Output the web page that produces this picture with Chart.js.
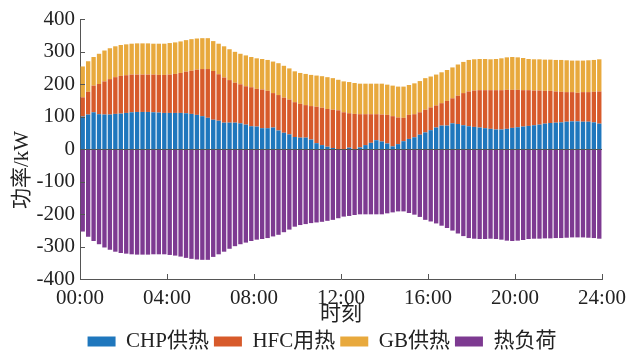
<!DOCTYPE html>
<html>
<head>
<meta charset="utf-8">
<script src="https://cdn.jsdelivr.net/npm/chart.js@4/dist/chart.umd.min.js"></script>
<style>
  html, body { margin: 0; padding: 0; background: #fff; }
</style>
</head>
<body>
<canvas id="chart" width="638" height="353"></canvas>
<script>
// 96 slots of 15 min, values in kW
const chpHeat = [100,106,113,107,106,106,108,109,111,113,114,114,114,113,112,111,
  111,111,111,110,108,105,101,96,90,87,81,81,81,79,75,70,
  69,64,64,66,57,50,45,37,35,35,29,18,12,7,3,0,
  0,4,0,5,12,19,27,23,17,8,15,24,31,36,44,51,
  58,66,72,72,79,77,73,70,68,66,64,62,60,60,62,65,
  67,69,71,73,75,78,80,81,82,84,85,85,84,84,82,78];
const hfcHeat = [59,70,82,93,102,109,113,116,116,116,115,115,115,116,116,117,
  118,120,123,128,133,139,145,150,150,143,139,131,123,120,118,120,
  116,119,115,106,109,108,107,107,104,100,103,112,115,116,118,119,
  113,106,108,102,95,88,80,83,88,93,82,72,74,71,69,70,
  70,68,69,76,77,87,99,107,112,115,117,119,121,121,120,117,
  115,112,110,107,105,101,99,96,94,91,90,88,91,91,94,99];
const gbHeat = [95,94,88,93,95,95,95,95,95,95,96,96,96,95,96,96,
  97,97,97,97,97,96,95,95,92,94,96,95,95,94,95,93,
  94,94,95,97,98,98,96,95,95,96,96,96,97,98,97,94,
  95,96,95,94,94,94,94,95,93,94,95,96,92,95,96,97,
  95,95,95,95,95,96,96,97,96,96,96,95,96,98,100,101,
  100,99,96,96,96,96,96,97,98,98,97,99,97,98,98,99];
const heatLoad = [-254,-270,-283,-293,-303,-310,-316,-320,-322,-324,-325,-325,-325,-324,-324,-324,
  -326,-328,-331,-335,-338,-340,-341,-341,-332,-324,-316,-307,-299,-293,-288,-283,
  -279,-277,-274,-269,-264,-256,-248,-239,-234,-231,-228,-226,-224,-221,-218,-213,
  -208,-206,-203,-201,-201,-201,-201,-201,-198,-195,-192,-192,-197,-202,-209,-218,
  -223,-229,-236,-243,-251,-260,-268,-274,-276,-277,-277,-276,-277,-279,-282,-283,
  -282,-280,-277,-276,-276,-275,-275,-274,-274,-273,-272,-272,-272,-273,-274,-276];

const seriesNames = ['CHP供热', 'HFC用热', 'GB供热', '热负荷'];
const seriesColors = ['#1f77bd', '#d75a2b', '#e8a93d', '#7d3a91'];
const slotsPerHour = 4;
const hourStep = 4;

const FONT = "'Liberation Serif', 'Noto Sans CJK SC', serif";
const FONT_SIZE = 21;
const toPoints = arr => arr.map((v, i) => ({ x: i + 0.5, y: v }));

// ticks point into the plot, plus a thin zero line
const inwardTicks = {
  id: 'inwardTicks',
  afterDatasetsDraw(chart) {
    const { ctx, chartArea: a, scales: { x, y } } = chart;
    ctx.save();
    ctx.strokeStyle = '#555';
    ctx.lineWidth = 1;
    ctx.beginPath();
    y.ticks.forEach(t => {
      const py = Math.round(y.getPixelForValue(t.value)) + 0.5;
      ctx.moveTo(a.left, py);
      ctx.lineTo(a.left + 5, py);
    });
    x.ticks.forEach(t => {
      const px = Math.round(x.getPixelForValue(t.value)) + 0.5;
      ctx.moveTo(px, a.bottom);
      ctx.lineTo(px, a.bottom - 5);
    });
    const y0 = Math.round(y.getPixelForValue(0)) + 0.5;
    ctx.moveTo(a.left, y0);
    ctx.lineTo(a.right, y0);
    ctx.stroke();
    ctx.restore();
  }
};

new Chart(document.getElementById('chart'), {
  type: 'bar',
  data: {
    datasets: [chpHeat, hfcHeat, gbHeat, heatLoad].map((arr, i) => ({
      label: seriesNames[i],
      data: toPoints(arr),
      backgroundColor: seriesColors[i],
      borderWidth: 0,
      barPercentage: 0.8,
      categoryPercentage: 1,
    }))
  },
  options: {
    responsive: false,
    animation: false,
    devicePixelRatio: 1,
    layout: { padding: { left: 10, right: 4, top: 19, bottom: -9 } },
    scales: {
      x: {
        type: 'linear',
        stacked: true,
        offset: false,
        min: 0,
        max: 96,
        afterFit: s => { s.height = 47; },
        grid: { display: false, drawTicks: false },
        border: { display: true, color: '#555', width: 1 },
        ticks: {
          stepSize: slotsPerHour * hourStep,
          padding: 7,
          color: '#222',
          font: { family: FONT, size: FONT_SIZE },
          maxRotation: 0,
          callback: v => String(v / slotsPerHour).padStart(2, '0') + ':00'
        },
        title: { display: true, text: '时刻', color: '#222', padding: { top: 0, bottom: -1 }, font: { family: FONT, size: FONT_SIZE } }
      },
      y: {
        stacked: true,
        min: -400,
        max: 400,
        afterFit: s => { s.width = 70; },
        grid: { display: false, drawTicks: false },
        border: { display: true, color: '#555', width: 1 },
        ticks: {
          stepSize: 100,
          padding: 5,
          color: '#222',
          font: { family: FONT, size: FONT_SIZE }
        },
        title: { display: true, text: '功率/kW\u3000\u3000', color: '#222', padding: 0, font: { family: FONT, size: FONT_SIZE } }
      },
      // empty spacer on the right so the legend sits centred on the page
      spacer: {
        type: 'linear',
        position: 'right',
        afterFit: s => { s.width = 32; },
        grid: { display: false, drawTicks: false },
        border: { display: false },
        ticks: { display: false }
      }
    },
    plugins: {
      legend: {
        position: 'bottom',
        labels: {
          boxWidth: 28,
          boxHeight: 10,
          padding: 5,
          color: '#222',
          font: { family: FONT, size: FONT_SIZE }
        }
      },
      tooltip: { enabled: false }
    }
  },
  plugins: [inwardTicks]
});
</script>
</body>
</html>
